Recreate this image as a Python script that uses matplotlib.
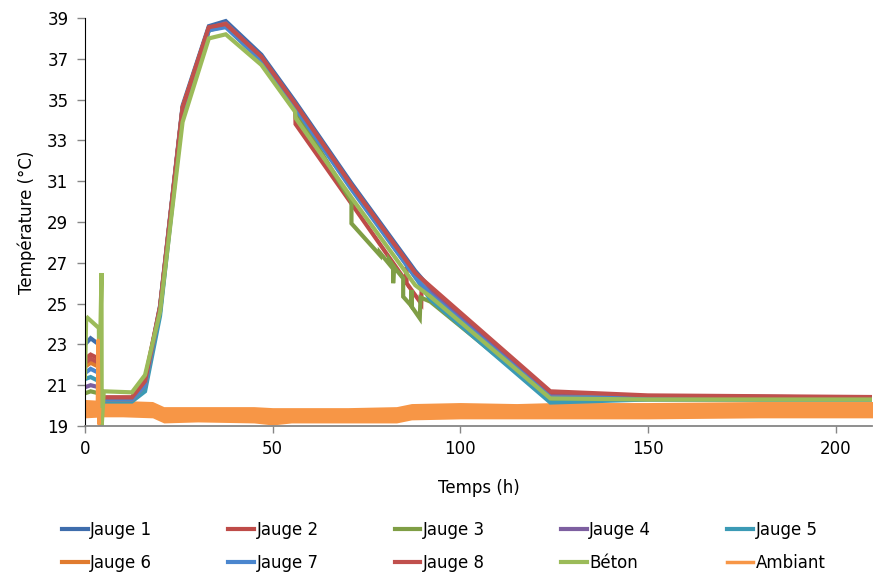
import matplotlib
matplotlib.use("Agg")
import matplotlib.pyplot as plt

plt.rcParams["font.family"] = ["DejaVu Sans"]

# common time base for most gauges (h)
t_g = [0, 1.5, 3.7, 4.2, 12.5, 16, 20, 26, 33, 37.5, 47, 56, 71, 88, 92, 124, 150, 210]
jauge1 = [23.0, 23.3, 23.0, 20.35, 20.35, 21.1, 24.9, 34.7, 38.6, 38.85, 37.2, 34.9, 30.9, 26.6, 25.75, 20.6, 20.45, 20.4]
jauge4 = [20.9, 21.0, 20.9, 20.3, 20.3, 21.0, 24.8, 34.6, 38.5, 38.75, 37.1, 34.8, 30.8, 26.5, 25.55, 20.45, 20.4, 20.35]
jauge5 = [21.3, 21.4, 21.2, 20.2, 20.2, 20.7, 24.4, 34.4, 38.4, 38.7, 37.0, 34.7, 30.7, 26.3, 25.2, 20.15, 20.3, 20.3]
jauge6 = [21.9, 22.1, 21.9, 20.3, 20.3, 21.0, 24.8, 34.6, 38.5, 38.7, 37.0, 34.7, 30.7, 26.4, 25.4, 20.4, 20.4, 20.35]
jauge7 = [21.6, 21.8, 21.6, 20.3, 20.3, 21.0, 24.7, 34.5, 38.4, 38.55, 36.9, 34.6, 30.6, 26.3, 25.45, 20.4, 20.4, 20.35]
jauge8 = [22.1, 22.3, 22.1, 20.4, 20.4, 21.2, 24.8, 34.6, 38.55, 38.7, 37.1, 34.8, 30.8, 26.5, 25.85, 20.7, 20.5, 20.42]

t_j2 = [0, 1.5, 3.7, 4.2, 12.5, 16, 20, 26, 33, 37.5, 47, 56, 56.1, 71, 85.5, 85.6, 85.7,
        89.6, 89.7, 92, 124, 150, 210]
jauge2 = [22.3, 22.5, 22.3, 20.4, 20.4, 21.3, 24.85, 34.6, 38.5, 38.7, 37.0, 34.6, 33.8, 29.9, 26.1, 26.8, 26.0,
          25.0, 25.9, 25.6, 20.6, 20.45, 20.4]

t_j3 = [0, 1.5, 3.7, 4.2, 12.5, 16, 20, 26, 33, 37.5, 47, 56, 71.0, 71.0, 78.56, 78.56, 81.05, 81.05,
        82.11, 82.11, 82.3, 84.78, 84.78, 87.0, 87.0, 87.05, 89.2, 89.4, 92, 124, 150, 210]
jauge3 = [20.6, 20.7, 20.6, 20.3, 20.3, 20.9, 24.6, 34.4, 38.4, 38.6, 36.9, 34.5, 30.0, 28.93, 27.38, 27.5, 26.94, 27.14,
          26.85, 26.0, 26.8, 26.24, 25.34, 24.88, 25.67, 24.85, 24.28, 25.3, 25.1, 20.3, 20.3, 20.3]

t_beton = [0, 0.3, 0.7, 3.7, 3.8, 4.4, 4.45, 5.0, 12.5, 16, 20, 26, 33, 37.5, 47, 56, 56.1, 71, 88, 92,
           124, 150, 210]
beton = [21.4, 24.2, 24.3, 23.8, 20.8, 26.5, 19.0, 20.7, 20.65, 21.5, 24.6, 33.9, 38.0, 38.2, 36.7, 34.4, 34.1,
         30.2, 25.9, 25.35, 20.35, 20.3, 20.3]

# ambient: noisy band, read as upper / lower envelope, plus early spike
t_amb = [0, 5, 10, 18, 21, 30, 45, 50, 55, 70, 83, 87, 100, 115, 125, 150, 180, 210]
amb_hi = [20.3, 20.25, 20.25, 20.2, 19.95, 19.95, 19.95, 19.9, 19.9, 19.9, 19.95, 20.1, 20.15, 20.1, 20.15, 20.15, 20.2, 20.2]
amb_lo = [19.4, 19.45, 19.45, 19.4, 19.15, 19.2, 19.15, 19.05, 19.15, 19.15, 19.15, 19.3, 19.35, 19.35, 19.35, 19.35, 19.4, 19.4]
t_amb_spike = [3.3, 3.5, 3.7, 3.9]
amb_spike = [20.0, 23.2, 19.1, 19.8]

colors = {
    "Jauge 1": "#3E6DAC", "Jauge 2": "#BE4B48", "Jauge 3": "#7F9E45", "Jauge 4": "#7D5FA0",
    "Jauge 5": "#3B9AB5", "Jauge 6": "#E07B2F", "Jauge 7": "#4A86CE", "Jauge 8": "#C0504D",
    "Béton": "#9BBB59", "Ambiant": "#F79646",
}

series = [
    ("Jauge 1", t_g, jauge1), ("Jauge 2", t_j2, jauge2), ("Jauge 3", t_j3, jauge3),
    ("Jauge 4", t_g, jauge4), ("Jauge 5", t_g, jauge5), ("Jauge 6", t_g, jauge6),
    ("Jauge 7", t_g, jauge7), ("Jauge 8", t_g, jauge8), ("Béton", t_beton, beton),
]

fig = plt.figure(figsize=(8.77, 5.77), dpi=100)
ax = fig.add_axes([85 / 877, 1 - 426 / 577, 787 / 877, 408 / 577])

lw = 3.0
handles = {}
for name, tt, vals in series:
    handles[name], = ax.plot(tt, vals, color=colors[name], lw=lw, label=name, solid_joinstyle="miter")

ax.fill_between(t_amb, amb_lo, amb_hi, color=colors["Ambiant"], lw=0)
handles["Ambiant"], = ax.plot(t_amb_spike, amb_spike, color=colors["Ambiant"], lw=2.5, label="Ambiant")

ax.set_xlim(0, 209.7)
ax.set_ylim(19, 39)
ax.set_xticks([0, 50, 100, 150, 200])
ax.set_yticks(range(19, 40, 2))
ax.tick_params(axis="both", labelsize=12, direction="out", colors="#868686", labelcolor="black")
ax.tick_params(axis="y", length=6, width=1, pad=6)
ax.tick_params(axis="x", length=5, width=1, pad=5)
for s in ["top", "right"]:
    ax.spines[s].set_visible(False)
ax.spines["left"].set_color("black")
ax.spines["bottom"].set_color("#868686")
ax.spines["bottom"].set_linewidth(1.3)

ax.set_ylabel("Température (°C)", fontsize=12)
ax.set_xlabel("Temps (h)", fontsize=12)
ax.yaxis.set_label_coords(-0.062, 0.5)
ax.xaxis.set_label_coords(0.5, -0.13)

# legend is filled column-wise, so interleave the two rows
order = ["Jauge 1", "Jauge 6", "Jauge 2", "Jauge 7", "Jauge 3", "Jauge 8", "Jauge 4", "Béton", "Jauge 5", "Ambiant"]
fig.legend([handles[k] for k in order], order, ncol=5, loc="upper left",
           bbox_to_anchor=(62 / 877, 1 - 521 / 577), frameon=False, fontsize=12,
           handlelength=1.55, handletextpad=0.15, columnspacing=4.55, labelspacing=0.88,
           borderpad=0, borderaxespad=0)

fig.savefig("out.png", dpi=100)
